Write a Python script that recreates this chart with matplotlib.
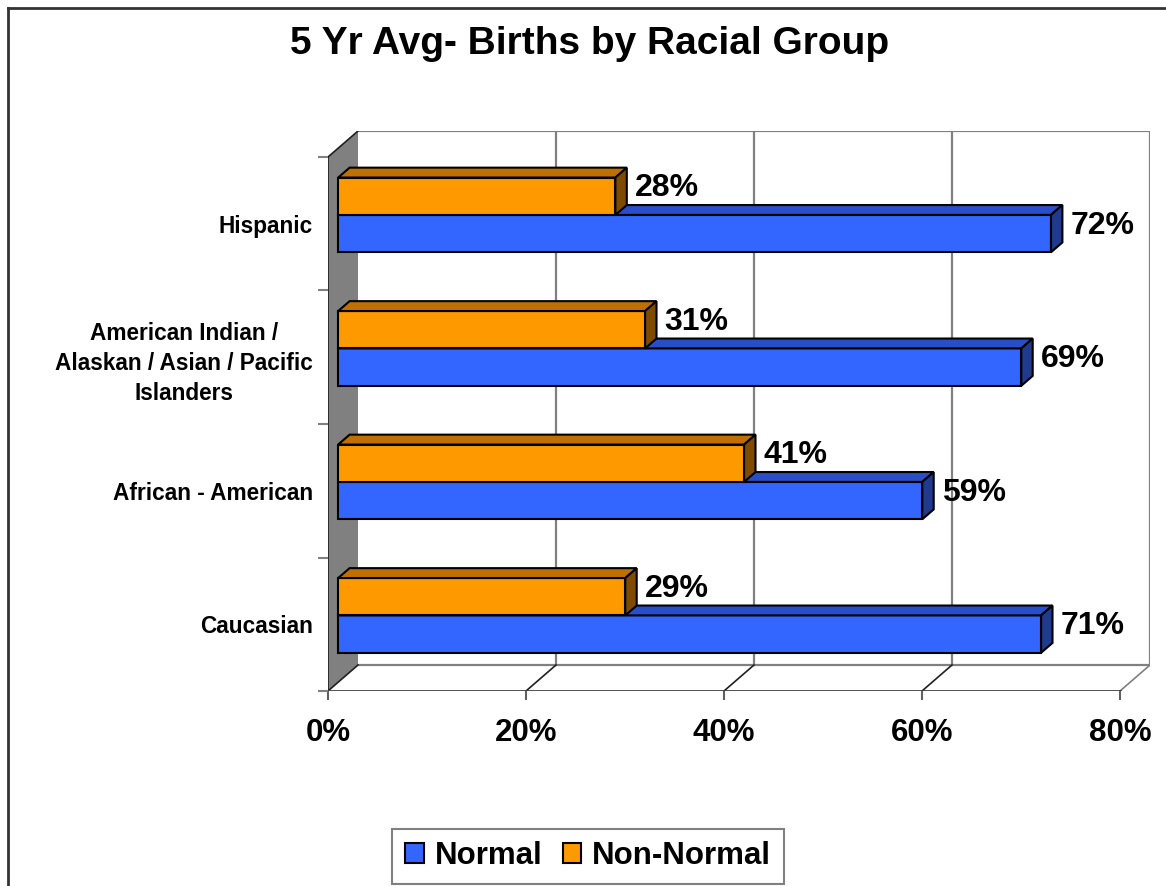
import numpy as np
import matplotlib.pyplot as plt
from matplotlib.patches import Polygon, Patch
from matplotlib.lines import Line2D

plt.rcParams['font.family'] = ['Liberation Sans', 'DejaVu Sans']

# data
categories = ['Caucasian', 'African - American',
              'American Indian /\nAlaskan / Asian / Pacific\nIslanders', 'Hispanic']
normal = [71, 59, 69, 72]
non_normal = [29, 41, 31, 28]
series_names = ['Normal', 'Non-Normal']
x_ticks = [0, 20, 40, 60, 80]
x_tick_labels = ['0%', '20%', '40%', '60%', '80%']
title = '5 Yr Avg- Births by Racial Group'

# colours: front, top, side
blue = ('#3366FF', '#2A4EC8', '#1F3A8F')
orange = ('#FF9900', '#C07000', '#7F4B00')

W, H = 1166, 886
fig = plt.figure(figsize=(W / 100, H / 100), dpi=100)

# 3d look: front plane 792 x 534 px, depth offset 30 px right, 26 px up
PXX = 80 / 792
PXY = 4 / 534
DX = 30 * PXX
DY = 26 * PXY
ax = fig.add_axes([328 / W, (H - 691) / H, (792 + 30) / W, (534 + 26) / H])
ax.set_xlim(0, 80 + DX)
ax.set_ylim(-0.5, 3.5 + DY)
for s in ax.spines.values():
    s.set_visible(False)

# walls and floor
ax.add_patch(Polygon([(0, -0.5), (0, 3.5), (DX, 3.5 + DY), (DX, -0.5 + DY)],
                     closed=True, facecolor='#808080', edgecolor='none', zorder=1))
ax.plot([0, 0], [-0.5, 3.5], color='#202020', lw=1.2, zorder=2)
ax.plot([0, DX], [3.5, 3.5 + DY], color='#202020', lw=1.2, zorder=2)
for t in x_ticks[1:]:
    ax.plot([t + DX, t + DX], [-0.5 + DY, 3.5 + DY], color='#808080', lw=1.6, zorder=1)
ax.plot([DX, x_ticks[-1] + DX], [3.5 + DY, 3.5 + DY], color='#808080', lw=1.6, zorder=1)
ax.plot([DX, x_ticks[-1] + DX], [-0.5 + DY, -0.5 + DY], color='#808080', lw=1.6, zorder=1)
for t in x_ticks:
    c = '#808080' if t == x_ticks[-1] else '#202020'
    ax.plot([t, t + DX], [-0.5, -0.5 + DY], color=c, lw=1.2, zorder=1)
ax.plot([0, x_ticks[-1]], [-0.5, -0.5], color='#404040', lw=2, zorder=2)

# bars
h = 0.28
d1, d2 = 0.34, 0.72
for i in range(len(categories)):
    for vals, col, y0 in ((normal, blue, i - h), (non_normal, orange, i)):
        v = vals[i]
        ax.barh(y0 + d1 * DY, v, left=d1 * DX, height=h, align='edge',
                color=col[0], edgecolor='black', lw=1.5, zorder=3)
        yt = y0 + h
        ax.add_patch(Polygon([(d1 * DX, yt + d1 * DY), (d1 * DX + v, yt + d1 * DY),
                              (d2 * DX + v, yt + d2 * DY), (d2 * DX, yt + d2 * DY)],
                             closed=True, facecolor=col[1], edgecolor='black', lw=1.5, zorder=3))
        ax.add_patch(Polygon([(d1 * DX + v, y0 + d1 * DY), (d2 * DX + v, y0 + d2 * DY),
                              (d2 * DX + v, yt + d2 * DY), (d1 * DX + v, yt + d1 * DY)],
                             closed=True, facecolor=col[2], edgecolor='black', lw=1.5, zorder=3))
        ax.text(v + d2 * DX + 8 * PXX, y0 + h / 2 + (d1 + d2) / 2 * DY + 3 * PXY,
                f'{v}%', ha='left', va='center', fontsize=23, fontweight='bold', zorder=4)

# axes ticks
ax.set_xticks(x_ticks)
ax.set_xticklabels(x_tick_labels, fontsize=22.5, fontweight='bold')
ax.tick_params(axis='x', length=6.5, width=1.5, color='#606060', pad=13)
ax.set_yticks(range(len(categories)))
ax.set_yticklabels(categories, fontsize=16.3, fontweight='bold', linespacing=1.38)
ax.set_yticks(np.arange(-0.5, len(categories)), minor=True)
ax.tick_params(axis='y', which='major', length=0, pad=10.8)
ax.tick_params(axis='y', which='minor', length=7.2, width=1.5, color='#808080')
for lab in ax.get_yticklabels():
    lab.set_multialignment('center')

fig.text(589.5 / W, 1 - 44 / H, title, ha='center', va='center',
         fontsize=28, fontweight='bold')

handles = [Patch(facecolor=blue[0], edgecolor='black', lw=1.5),
           Patch(facecolor=orange[0], edgecolor='black', lw=1.5)]
leg = fig.legend(handles, series_names, loc='center', bbox_to_anchor=(588 / W, 1 - 856 / H),
                 ncol=2, fancybox=False, edgecolor='#808080', framealpha=1,
                 prop={'size': 22.5, 'weight': 'bold'}, handlelength=0.6, handleheight=0.6,
                 handletextpad=0.35, columnspacing=0.65, borderpad=0.4, borderaxespad=0)
leg.get_frame().set_linewidth(1.5)

# outer frame (left and top only visible)
fig.add_artist(Line2D([8 / W, 8 / W], [0, 1 - 8 / H], transform=fig.transFigure,
                      color='#333333', lw=2))
fig.add_artist(Line2D([8 / W, 1], [1 - 8 / H, 1 - 8 / H], transform=fig.transFigure,
                      color='#333333', lw=2))

fig.savefig('out.png', dpi=100)
